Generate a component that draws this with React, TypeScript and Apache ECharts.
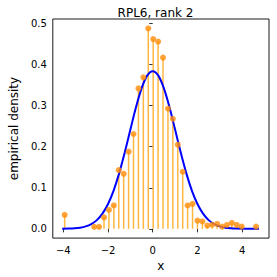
import React, { useEffect, useRef } from "react";
import * as echarts from "echarts";

// Stem positions (bin centres) and empirical densities
const stemX = [
  -3.94, -2.62, -2.4, -2.18, -1.96, -1.74, -1.52, -1.3, -1.08, -0.86, -0.64,
  -0.42, -0.2, 0.02, 0.24, 0.46, 0.68, 0.9, 1.12, 1.34, 1.56, 1.78, 2.0, 2.22,
  2.44, 2.66, 2.88, 3.1, 3.32, 3.54, 3.76, 3.98, 4.62,
];
const stemY = [
  0.034, 0.005, 0.005, 0.028, 0.046, 0.057, 0.143, 0.134, 0.188, 0.231, 0.342,
  0.369, 0.488, 0.462, 0.456, 0.417, 0.293, 0.268, 0.205, 0.139, 0.057, 0.061,
  0.02, 0.018, 0.008, 0.01, 0.012, 0.0055, 0.0096, 0.0144, 0.0096, 0.0055,
  0.0055,
];

// Fitted curve
const curveX = [
  -4.05, -3.75, -3.5, -3.25, -3.0, -2.75, -2.5, -2.25, -2.0, -1.75, -1.5, -1.25,
  -1.0, -0.75, -0.5, -0.25, 0, 0.25, 0.5, 0.75, 1.0, 1.25, 1.5, 1.75, 2.0, 2.25,
  2.5, 2.75, 3.0, 3.25, 3.5, 3.75, 4.0, 4.25, 4.5, 4.75,
];
const curveY = [
  0.0002, 0.0006, 0.0013, 0.0029, 0.006, 0.0117, 0.0213, 0.037, 0.0604, 0.0932,
  0.1357, 0.1865, 0.2418, 0.2961, 0.3421, 0.3731, 0.384, 0.3731, 0.3421, 0.2961,
  0.2418, 0.1865, 0.1357, 0.0932, 0.0604, 0.037, 0.0213, 0.0117, 0.006, 0.0029,
  0.0013, 0.0006, 0.0002, 0.0001, 0.0, 0.0,
];

const xTicks = [-4, -2, 0, 2, 4];
const yTicks = [0, 0.1, 0.2, 0.3, 0.4, 0.5];

const titleText = "RPL6, rank 2";
const xName = "x";
const yName = "empirical density";

const FONT = "DejaVu Sans";

export default function App() {
  const ref = useRef<HTMLDivElement>(null);

  useEffect(() => {
    document.body.style.margin = "0";
    if (!ref.current) return;
    const chart = echarts.init(ref.current, null, { renderer: "svg" });
    const stems = stemX.map((x, i) => [x, stemY[i]]);
    const curve = curveX.map((x, i) => [x, curveY[i]]);

    chart.setOption({
      animation: false,
      backgroundColor: "#ffffff",
      textStyle: { fontFamily: FONT },
      graphic: [
        {
          type: "text",
          x: 155.5,
          y: 12.5,
          style: {
            text: titleText,
            fontFamily: FONT,
            fontSize: 12,
            fill: "#000",
            textAlign: "center",
            textVerticalAlign: "middle",
          },
        },
      ],
      grid: {
        left: 42,
        right: 8,
        top: 19,
        bottom: 35,
        show: true,
        borderColor: "#000",
        borderWidth: 0.9,
        backgroundColor: "transparent",
      },
      xAxis: {
        type: "value",
        min: -4.47,
        max: 5.2,
        name: xName,
        nameLocation: "middle",
        nameGap: 15,
        nameTextStyle: { fontFamily: FONT, fontSize: 12, color: "#000" },
        axisLine: { show: false },
        splitLine: { show: false },
        axisTick: {
          show: true,
          length: 3.5,
          customValues: xTicks,
          lineStyle: { color: "#000", width: 0.8 },
        },
        axisLabel: {
          customValues: xTicks,
          margin: 7,
          fontFamily: FONT,
          fontSize: 10,
          color: "#000",
          formatter: (v: number) =>
            v < 0 ? "\u2212" + Math.abs(v).toString() : v.toString(),
        },
      },
      yAxis: {
        type: "value",
        min: -0.0225,
        max: 0.511,
        name: yName,
        nameLocation: "middle",
        nameRotate: 90,
        nameGap: 24,
        nameTextStyle: { fontFamily: FONT, fontSize: 12, color: "#000" },
        axisLine: { show: false },
        splitLine: { show: false },
        axisTick: {
          show: true,
          length: 3.5,
          customValues: yTicks,
          lineStyle: { color: "#000", width: 0.8 },
        },
        axisLabel: {
          customValues: yTicks,
          margin: 6,
          fontFamily: FONT,
          fontSize: 10,
          color: "#000",
          formatter: (v: number) => v.toFixed(1),
        },
      },
      series: [
        {
          type: "custom",
          z: 1,
          data: stems,
          renderItem: (params: any, api: any) => {
            const x = api.value(0);
            const y = api.value(1);
            const p0 = api.coord([x, 0]);
            const p1 = api.coord([x, y]);
            return {
              type: "line",
              shape: { x1: p0[0], y1: p0[1], x2: p1[0], y2: p1[1] },
              style: { stroke: "rgba(255,170,30,0.85)", lineWidth: 1.5 },
            };
          },
        },
        {
          type: "line",
          z: 2,
          data: curve,
          smooth: 0.3,
          showSymbol: false,
          symbol: "none",
          lineStyle: { color: "#0000ff", width: 2 },
        },
        {
          type: "scatter",
          z: 3,
          data: stems,
          symbol: "circle",
          symbolSize: 6,
          itemStyle: { color: "#ff8c0a" },
        },
      ],
    });

    return () => chart.dispose();
  }, []);

  return <div ref={ref} style={{ width: 277, height: 277 }} />;
}
